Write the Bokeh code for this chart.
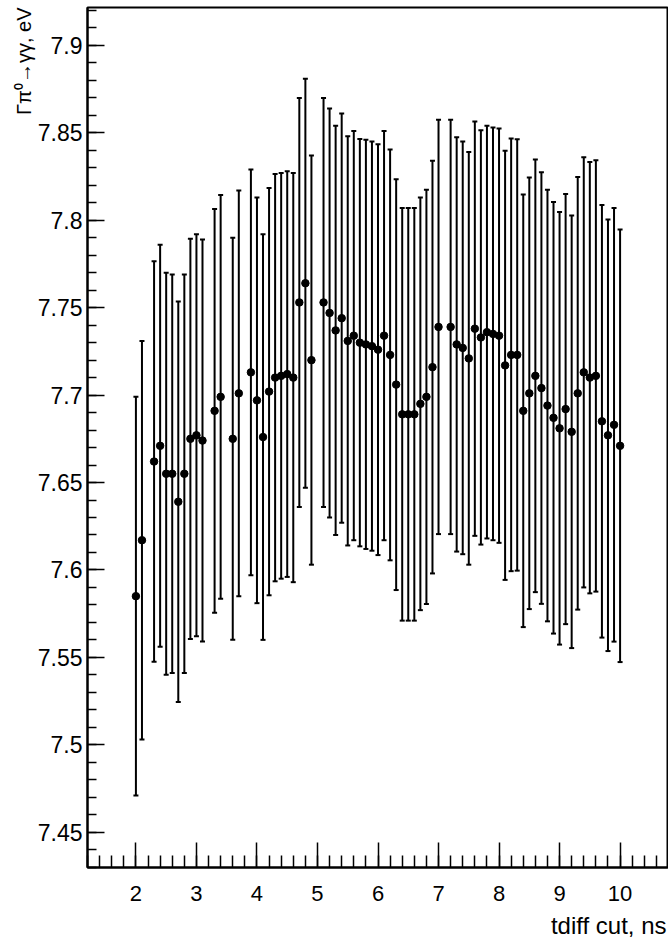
from bokeh.plotting import figure
from bokeh.models import ColumnDataSource, Whisker, TeeHead, FixedTicker, Range1d, Title
from bokeh.embed import file_html
from bokeh.resources import INLINE

# ---- data ----
tdiff_cut = [2.0, 2.1, 2.3, 2.4, 2.5, 2.6, 2.7, 2.8, 2.9, 3.0, 3.1, 3.3, 3.4, 3.6, 3.7,
             3.9, 4.0, 4.1, 4.2, 4.3, 4.4, 4.5, 4.6, 4.7, 4.8, 4.9, 5.1, 5.2, 5.3, 5.4,
             5.5, 5.6, 5.7, 5.8, 5.9, 6.0, 6.1, 6.2, 6.3, 6.4, 6.5, 6.6, 6.7, 6.8, 6.9,
             7.0, 7.2, 7.3, 7.4, 7.5, 7.6, 7.7, 7.8, 7.9, 8.0, 8.1, 8.2, 8.3, 8.4, 8.5,
             8.6, 8.7, 8.8, 8.9, 9.0, 9.1, 9.2, 9.3, 9.4, 9.5, 9.6, 9.7, 9.8, 9.9, 10.0]

gamma_width = [7.585, 7.617, 7.662, 7.671, 7.655, 7.655, 7.639, 7.655, 7.675, 7.677, 7.674,
               7.691, 7.699, 7.675, 7.701, 7.713, 7.697, 7.676, 7.702, 7.710, 7.711, 7.712,
               7.710, 7.753, 7.764, 7.720, 7.753, 7.747, 7.737, 7.744, 7.731, 7.734, 7.730,
               7.729, 7.728, 7.726, 7.734, 7.723, 7.706, 7.689, 7.689, 7.689, 7.695, 7.699,
               7.716, 7.739, 7.739, 7.729, 7.727, 7.721, 7.738, 7.733, 7.736, 7.735, 7.734,
               7.717, 7.723, 7.723, 7.691, 7.701, 7.711, 7.704, 7.694, 7.687, 7.681, 7.692,
               7.679, 7.701, 7.713, 7.710, 7.711, 7.685, 7.677, 7.683, 7.671]

gamma_err = [0.1140, 0.1140, 0.1145, 0.1150, 0.1150, 0.1140, 0.1145, 0.1140, 0.1145, 0.1150,
             0.1150, 0.1155, 0.1155, 0.1150, 0.1160, 0.1160, 0.1160, 0.1160, 0.1165, 0.1165,
             0.1160, 0.1160, 0.1170, 0.1170, 0.1170, 0.1170, 0.1170, 0.1170, 0.1170, 0.1170,
             0.1170, 0.1170, 0.1165, 0.1170, 0.1170, 0.1175, 0.1170, 0.1175, 0.1175, 0.1180,
             0.1180, 0.1180, 0.1180, 0.1185, 0.1180, 0.1185, 0.1185, 0.1185, 0.1180, 0.1180,
             0.1185, 0.1185, 0.1180, 0.1180, 0.1185, 0.1227, 0.1237, 0.1234, 0.1237, 0.1234,
             0.1237, 0.1234, 0.1234, 0.1234, 0.1237, 0.1230, 0.1237, 0.1237, 0.1230, 0.1234,
             0.1234, 0.1237, 0.1234, 0.1240, 0.1237]

x_tick_values = [2, 3, 4, 5, 6, 7, 8, 9, 10]
x_tick_labels = ["2", "3", "4", "5", "6", "7", "8", "9", "10"]
y_tick_values = [7.45, 7.5, 7.55, 7.6, 7.65, 7.7, 7.75, 7.8, 7.85, 7.9]
y_tick_labels = ["7.45", "7.5", "7.55", "7.6", "7.65", "7.7", "7.75", "7.8", "7.85", "7.9"]

x_title = "tdiff cut, ns"
y_title = "\u0393\u03c0\u2070\u2192\u03b3\u03b3, eV"

# ---- main plot ----
src = ColumnDataSource(dict(
    x=tdiff_cut,
    y=gamma_width,
    upper=[v + e for v, e in zip(gamma_width, gamma_err)],
    lower=[v - e for v, e in zip(gamma_width, gamma_err)],
))

p = figure(width=668, height=944,
           x_range=Range1d(1.2, 10.8), y_range=Range1d(7.4298, 7.9217),
           output_backend="svg", toolbar_location=None,
           min_border_left=87, min_border_right=0, min_border_top=7, min_border_bottom=73)

p.background_fill_color = "white"
p.border_fill_color = "white"
p.grid.visible = False
p.outline_line_color = "black"
p.outline_line_width = 2
p.outline_line_alpha = 1.0

x_minor = [round(1.2 + 0.2 * i, 1) for i in range(49)]
y_minor = [round(7.43 + 0.01 * i, 2) for i in range(50)]

p.xaxis.ticker = FixedTicker(ticks=x_tick_values, minor_ticks=x_minor)
p.yaxis.ticker = FixedTicker(ticks=y_tick_values, minor_ticks=y_minor)
p.xaxis.major_label_overrides = {v: s for v, s in zip(x_tick_values, x_tick_labels)}
p.yaxis.major_label_overrides = {v: s for v, s in zip(y_tick_values, y_tick_labels)}

for ax in (p.xaxis, p.yaxis):
    ax.axis_line_color = "black"
    ax.axis_line_width = 2
    ax.major_tick_line_color = "black"
    ax.minor_tick_line_color = "black"
    ax.major_tick_line_width = 1.5
    ax.minor_tick_line_width = 1.5
    ax.major_tick_out = 0
    ax.minor_tick_out = 0
    ax.major_label_text_font = "Liberation Sans"
    ax.major_label_text_color = "black"

p.xaxis.major_tick_in = 25
p.xaxis.minor_tick_in = 12
p.yaxis.major_tick_in = 17
p.yaxis.minor_tick_in = 9
p.xaxis.major_label_text_font_size = "22px"
p.yaxis.major_label_text_font_size = "23px"
p.xaxis.major_label_standoff = 18
p.yaxis.major_label_standoff = 5

head_u = TeeHead(size=5, line_color="black", line_width=2)
head_l = TeeHead(size=5, line_color="black", line_width=2)
p.add_layout(Whisker(source=src, base="x", upper="upper", lower="lower",
                     line_color="black", line_width=2,
                     upper_head=head_u, lower_head=head_l))
p.scatter("x", "y", source=src, size=7.5, color="black")

# x axis title, right-aligned at the end of the axis
p.add_layout(Title(text=x_title, align="right", offset=2, standoff=12,
                   text_font="Liberation Sans", text_font_size="24px",
                   text_font_style="normal", text_color="black"), "below")

# y axis title, at the top end of the axis
p.add_layout(Title(text=y_title, align="right", offset=0, standoff=0,
                   text_font="Liberation Sans", text_font_size="20px",
                   text_font_style="normal", text_color="black"), "left")

open("out.html", "w").write(file_html(p, INLINE))
